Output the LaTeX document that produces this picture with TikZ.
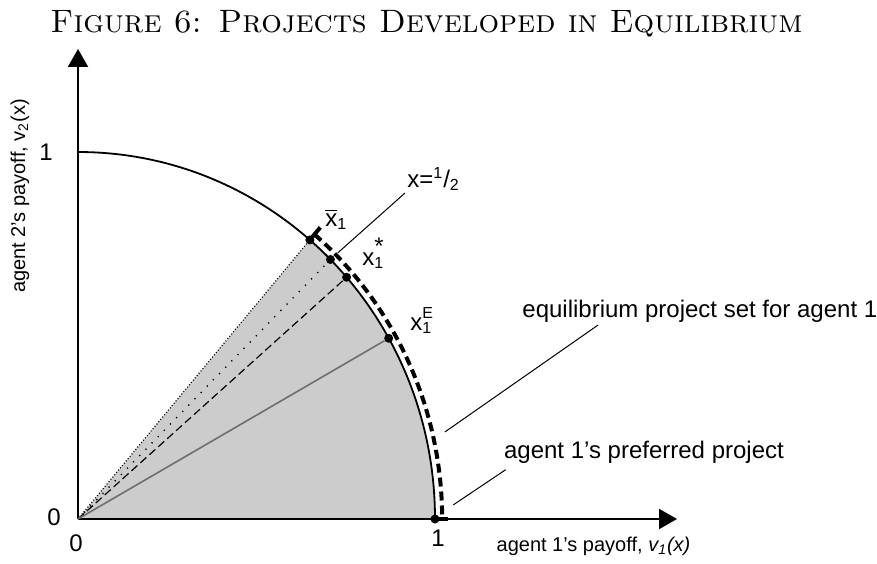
\documentclass[tikz,border=0pt]{standalone}
\usepackage{fontspec}
\setsansfont{Liberation Sans}
\usetikzlibrary{arrows.meta,positioning,calc}
\definecolor{sh}{HTML}{CCCCCC}
\definecolor{gl}{HTML}{6E6E6E}

\begin{document}
\begin{tikzpicture}[x=178.5pt,y=183.5pt,font=\sffamily\fontsize{12}{14}\selectfont,
  ax/.style={line width=1pt,-{Triangle[length=9pt,width=10pt]}},
  dot/.style={circle,fill,inner sep=0pt,minimum size=4.5pt},
  lab/.style={inner sep=1pt},
  lead/.style={line width=0.5pt},
  sm/.style={font=\sffamily\fontsize{10}{12}\selectfont}]
\useasboundingbox (-39pt,-22pt) rectangle (399.5pt,259.5pt);
\node[font=\rmfamily\scshape\fontsize{16.2}{18}\selectfont,inner sep=0pt] (title) at (174.25pt,247.4pt) {Figure 6: Projects Developed in Equilibrium};
% region and frontier
\fill[sh] (0,0) -- (0:1) arc[start angle=0,end angle=49.5,x radius=1,y radius=1] -- cycle;
\draw[line width=0.9pt] (90:1) arc[start angle=90,end angle=0,x radius=1,y radius=1];
\draw[line width=2pt,dash pattern=on 4.5pt off 2.5pt] (49.5:1.02) arc[start angle=49.5,end angle=0,x radius=1.02,y radius=1.02];
\draw[line width=2pt] (49.5:1) -- (49.5:1.045);
\draw[line width=2pt] (0:1) -- (0:1.035);
% axes
\coordinate (o) at (0,0);
\coordinate (xend) at (299.5pt,0);
\coordinate (yend) at (0,235pt);
\draw[ax] (o) -- (xend);
\draw[ax] (o) -- (yend);
% points
\node[dot] (xbar) at (49.5:1) {};
\node[dot] (xh) at (45:1) {};
\node[dot] (xs) at (41.2:1) {};
\node[dot] (xe) at (29.5:1) {};
\node[dot] (x1) at (0:1) {};
\draw[line width=0.6pt,dash pattern=on 0.5pt off 1pt] (o) -- (xbar);
\draw[line width=0.7pt,dash pattern=on 0.6pt off 3.8pt] (o) -- (xh);
\draw[line width=0.6pt,dash pattern=on 4pt off 2pt] (o) -- (xs);
\draw[gl,line width=0.8pt] (o) -- (xe);
% labels
\node[lab,anchor=base west] (xbarlab) at (122.5pt,146.5pt) {\ensuremath{\overline{\mbox{x}}}\textsubscript{1}};
\node[lab,anchor=base west] (xslab) at (141pt,127pt) {x\rlap{\raisebox{1pt}{\textsuperscript{\large*}}}\textsubscript{1}};
\node[lab,anchor=base west] (xelab) at (165pt,94.5pt) {x\rlap{\raisebox{1.5pt}{\textsuperscript{E}}}\textsubscript{1}};
\node[lab,anchor=base west] (half) at (163.5pt,166pt) {x=\textsuperscript{1}/\textsubscript{2}};
\coordinate (halftip) at (44.9:1.0275);
\draw[lead] (half.south west) -- (halftip);
\node[lab,anchor=base west] (eqset) at (221pt,100.65pt) {equilibrium project set for agent 1};
\coordinate (eqtip) at (13:1.055);
\draw[lead] ([xshift=39pt]eqset.south west) -- (eqtip);
\node[lab,anchor=base west] (pref) at (211.85pt,30.35pt) {agent 1's preferred project};
\coordinate (preftip) at (2.1:1.052);
\draw[lead] ([shift={(2pt,-2pt)}]pref.south west) -- (preftip);
% axis ticks and titles
\node[lab] (zl) at (-12pt,1pt) {0};
\node[lab] (zb) at (-1pt,-12pt) {0};
\node[lab] (ol) at (-16pt,183.5pt) {1};
\node[lab] (ob) at (180pt,-9.5pt) {1};
\node[sm] (xlab) at (257.75pt,-13.5pt) {agent 1's payoff, \textit{v\textsubscript{1}(x)}};
\node[sm,rotate=90] (ylab) at (-29pt,161.5pt) {agent 2's payoff, v\textsubscript{2}(x)};
\end{tikzpicture}
\end{document}
